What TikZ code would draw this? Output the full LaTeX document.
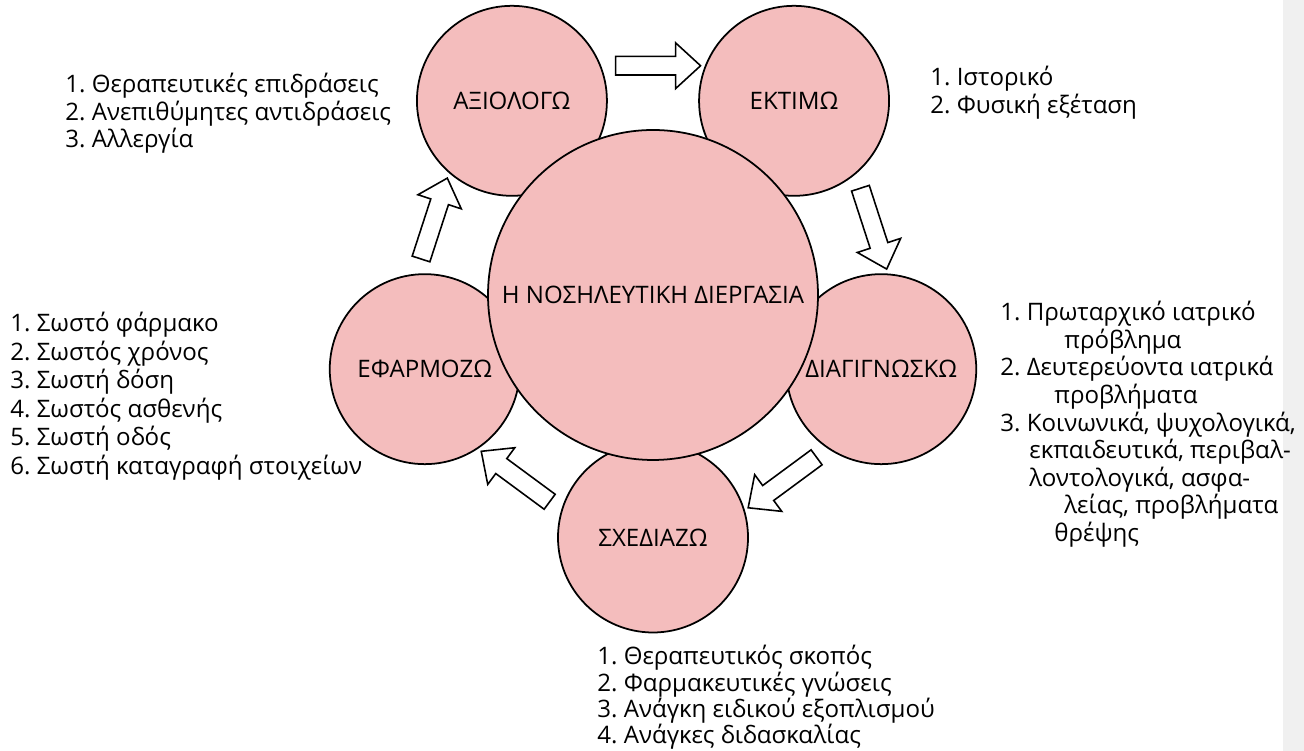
\documentclass[tikz,border=0pt]{standalone}
\usepackage{fontspec}
\setmainfont{Open Sans}
\usetikzlibrary{shapes.arrows,calc}
\definecolor{stagepink}{RGB}{244,189,189}
\begin{document}
\begin{tikzpicture}
  \tikzstyle{stage}=[circle,draw,line width=1pt,fill=stagepink,minimum size=3.8cm,inner sep=0pt]
  \tikzstyle{blockarrow}=[single arrow,draw,line width=0.9pt,fill=white,inner xsep=0pt,inner ysep=0.17cm,
    minimum height=1.7cm,single arrow head extend=0.27cm,
    single arrow tip angle=85,sloped,allow upside down]
  \tikzstyle{steps}=[align=left,inner sep=0pt,anchor=north west]
  \fontsize{13.7pt}{15.7pt}\selectfont
  \useasboundingbox (0,0) rectangle (26.08,15.02);
  \fill[black!6] (25.66,0) rectangle (26.08,15.02);

  \coordinate (c) at (13.06,9.12);

  \node[stage] (evaluate) at ($(c)+(126:4.8)$) {ΑΞΙΟΛΟΓΩ};
  \node[stage] (assess) at ($(c)+(54:4.8)$) {ΕΚΤΙΜΩ};
  \node[stage] (diagnose) at ($(c)+(-18:4.8)$) {ΔΙΑΓΙΓΝΩΣΚΩ};
  \node[stage] (plan) at ($(c)+(-90:4.85)$) {ΣΧΕΔΙΑΖΩ};
  \node[stage] (implement) at ($(c)+(198:4.8)$) {ΕΦΑΡΜΟΖΩ};

  \node[stage,minimum size=6.6cm] (process) at (c) {Η ΝΟΣΗΛΕΥΤΙΚΗ ΔΙΕΡΓΑΣΙΑ};

  \path (evaluate) -- node[blockarrow,above=0.5cm] {} (assess);
  \path (assess) -- node[blockarrow,above=0.52cm] {} (diagnose);
  \path (diagnose) -- node[blockarrow,above=0.45cm] {} (plan);
  \path (plan) -- node[blockarrow,above=0.45cm] {} (implement);
  \path (implement) -- node[blockarrow,above=0.55cm] {} (evaluate);

  \node[steps] (evaluatelist) at (1.3,13.56) {1.\ Θεραπευτικές επιδράσεις\\
    2.\ Ανεπιθύμητες αντιδράσεις\\
    3.\ Αλλεργία};

  \node[steps] (assesslist) at (18.6,13.7) {1.\ Ιστορικό\\
    2.\ Φυσική εξέταση};

  \node[steps] (diagnoselist) at (20.0,9.0) {1.\ Πρωταρχικό ιατρικό\\
    \hspace*{1.28cm}πρόβλημα\\
    2.\ Δευτερεύοντα ιατρικά\\
    \hspace*{1.08cm}προβλήματα\\
    3.\ Κοινωνικά, ψυχολογικά,\\
    \hspace*{0.58cm}εκπαιδευτικά, περιβαλ-\\
    \hspace*{0.58cm}λοντολογικά, ασφα-\\
    \hspace*{1.28cm}λείας, προβλήματα\\
    \hspace*{1.08cm}θρέψης};

  \node[steps,font={\fontsize{13.7pt}{15pt}\selectfont}] (planlist) at (11.94,2.12) {1.\ Θεραπευτικός σκοπός\\
    2.\ Φαρμακευτικές γνώσεις\\
    3.\ Ανάγκη ειδικού εξοπλισμού\\
    4.\ Ανάγκες διδασκαλίας};

  \node[steps,font={\fontsize{13.7pt}{16.2pt}\selectfont}] (implementlist) at (0.2,8.78) {1.\ Σωστό φάρμακο\\
    2.\ Σωστός χρόνος\\
    3.\ Σωστή δόση\\
    4.\ Σωστός ασθενής\\
    5.\ Σωστή οδός\\
    6.\ Σωστή καταγραφή στοιχείων};
\end{tikzpicture}
\end{document}
